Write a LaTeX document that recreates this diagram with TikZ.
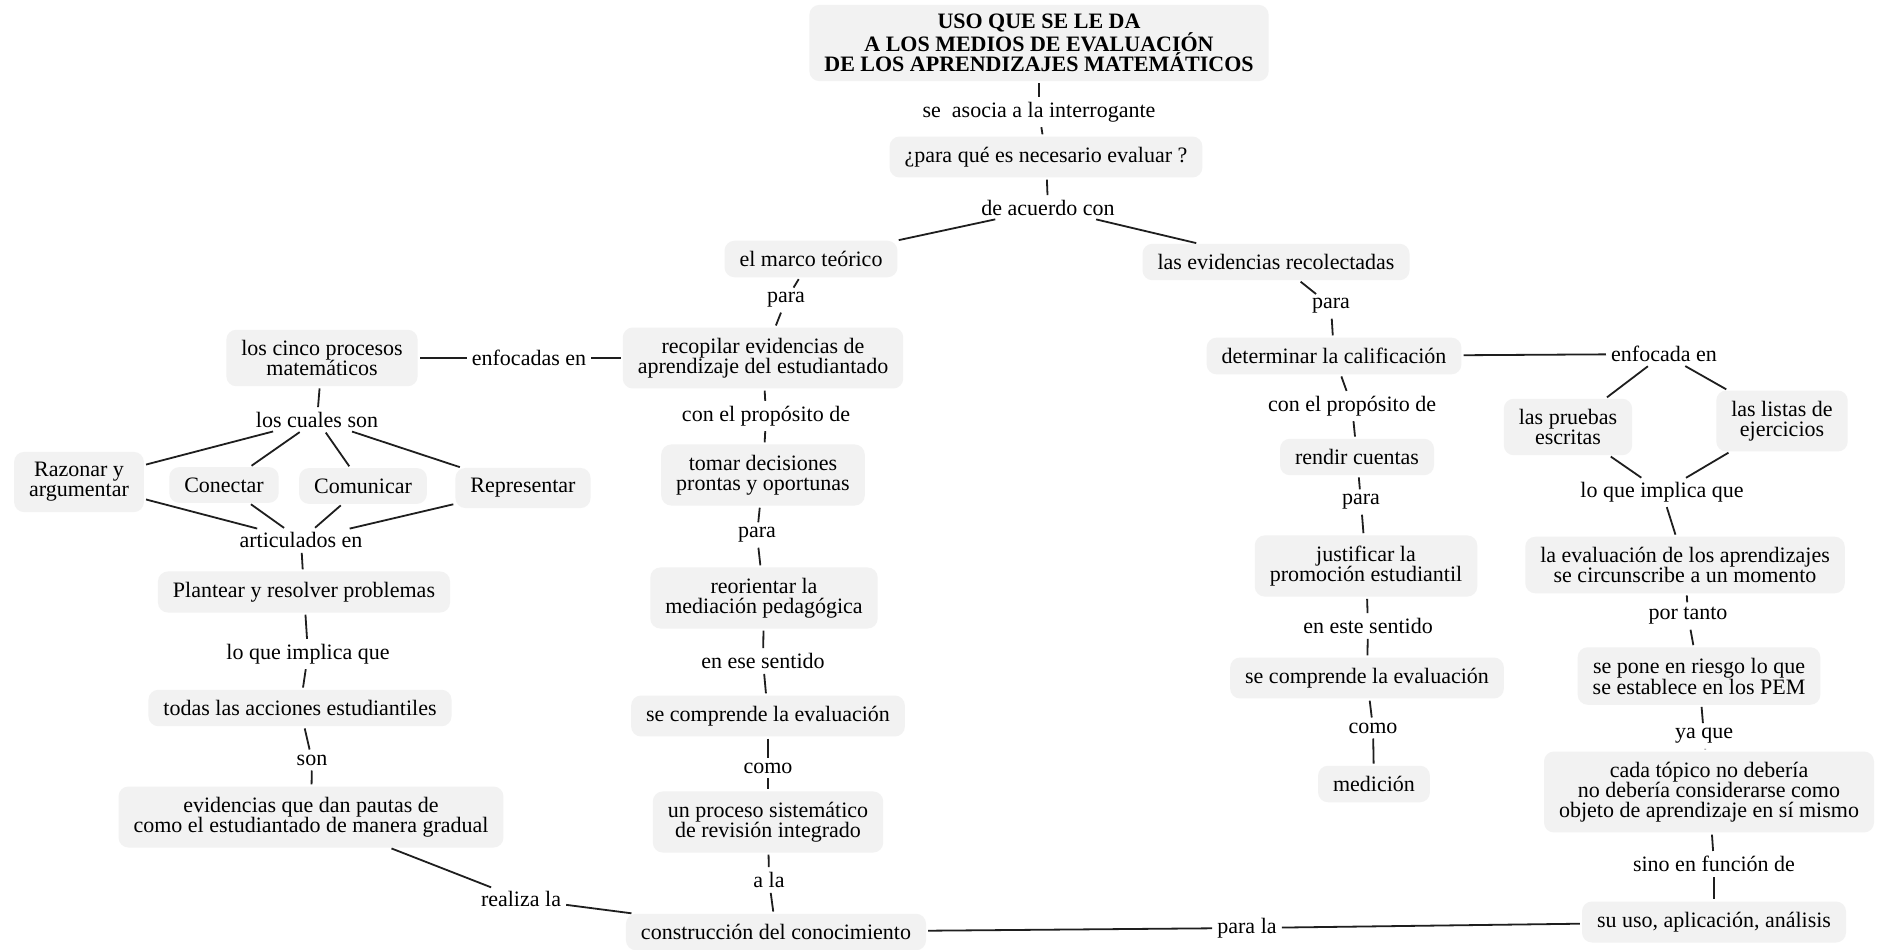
\documentclass[tikz,border=0pt]{standalone}
\usepackage{fontspec}
\setmainfont{Liberation Serif}
\newcommand\mapfont{\fontsize{22}{20}\selectfont}
\definecolor{boxfill}{HTML}{F2F2F2}
\definecolor{linecol}{HTML}{1E1E1E}
\begin{document}
\begin{tikzpicture}[x=1pt,y=-1pt,
  concept/.style={fill=boxfill, rounded corners=10pt, inner xsep=15pt, inner ysep=10.5pt, align=center, font=\mapfont},
  linkword/.style={inner sep=3pt, font=\mapfont, align=center},
  conn/.style={draw=linecol, line width=1.8pt, shorten <=2pt, shorten >=2pt}]
\useasboundingbox[fill=white] (0,0) rectangle (1882,950);

% top of the map
\node[concept, inner ysep=9pt, font=\mapfont\bfseries] (title) at (1039,43) {USO QUE SE LE DA\\A LOS MEDIOS DE EVALUACIÓN\\DE LOS APRENDIZAJES MATEMÁTICOS};
\node[linkword] (asocia) at (1039,112) {se~~asocia a la interrogante};
\node[concept] (pregunta) at (1046,157) {¿para qué es necesario evaluar ?};
\node[linkword] (acuerdo) at (1048,208) {de acuerdo con};
\node[concept] (marco) at (811,259) {el marco teórico};
\node[concept] (evid) at (1276,262) {las evidencias recolectadas};
\node[linkword] (paraA) at (786,300) {para};
\node[linkword] (paraB) at (1331,306) {para};

% left branch
\node[concept] (recop) at (763,358) {recopilar evidencias de\\aprendizaje del estudiantado};
\node[linkword] (enfocadas) at (529,358) {enfocadas en};
\node[concept] (cinco) at (322,358) {los cinco procesos\\matemáticos};
\node[linkword] (cuales) at (317,420) {los cuales son};
\node[concept] (razonar) at (79,482) {Razonar y\\argumentar};
\node[concept] (conectar) at (224,485) {Conectar};
\node[concept] (comunicar) at (363,486) {Comunicar};
\node[concept] (represent) at (523,488) {Representar};
\node[linkword] (articulados) at (301,540) {articulados en};
\node[concept] (plantear) at (304,592) {Plantear y resolver problemas};
\node[linkword] (implicaA) at (308,654) {lo que implica que};
\node[concept] (todas) at (300,708) {todas las acciones estudiantiles};
\node[linkword] (son) at (312,760) {son};
\node[concept] (pautas) at (311,817) {evidencias que dan pautas de\\como el estudiantado de manera gradual};
\node[linkword] (realiza) at (521,899) {realiza la};
\node[concept] (constr) at (776,932) {construcción del conocimiento};

% middle column
\node[linkword] (propA) at (766,416) {con el propósito de};
\node[concept] (tomar) at (763,475) {tomar decisiones\\prontas y oportunas};
\node[linkword] (paraC) at (757,535) {para};
\node[concept] (reorientar) at (764,598) {reorientar la\\mediación pedagógica};
\node[linkword] (ese) at (763,661) {en ese sentido};
\node[concept] (comprA) at (768,716) {se comprende la evaluación};
\node[linkword] (comoA) at (768,768) {como};
\node[concept] (proceso) at (768,822) {un proceso sistemático\\de revisión integrado};
\node[linkword] (ala) at (769,880) {a la};

% right-middle column
\node[concept] (determinar) at (1334,356) {determinar la calificación};
\node[linkword] (enfocada) at (1664,354) {enfocada en};
\node[linkword] (propB) at (1352,406) {con el propósito de};
\node[concept] (rendir) at (1357,457) {rendir cuentas};
\node[linkword] (paraD) at (1361,502) {para};
\node[concept] (justificar) at (1366,566) {justificar la\\promoción estudiantil};
\node[linkword] (este) at (1368,626) {en este sentido};
\node[concept] (comprB) at (1367,678) {se comprende la evaluación};
\node[linkword] (comoB) at (1373,728) {como};
\node[concept] (medicion) at (1374,784) {medición};

% right column
\node[concept] (pruebas) at (1568,427) {las pruebas\\escritas};
\node[concept] (listas) at (1782,421) {las listas de\\ejercicios};
\node[linkword] (implicaB) at (1662,492) {lo que implica que};
\node[concept] (circ) at (1685,565) {la evaluación de los aprendizajes\\se circunscribe a un momento};
\node[linkword] (portanto) at (1688,616) {por tanto};
\node[concept] (riesgo) at (1699,676) {se pone en riesgo lo que\\se establece en los PEM};
\node[linkword] (yaque) at (1704,736) {ya que};
\node[concept] (topico) at (1709,792) {cada tópico no debería\\no debería considerarse como\\objeto de aprendizaje en sí mismo};
\node[linkword] (sino) at (1714,864) {sino en función de};
\node[concept] (uso) at (1714,922) {su uso, aplicación, análisis};
\node[linkword] (parala) at (1247,928) {para la};

% connectors
\draw[conn] (title) -- (asocia);
\draw[conn] (asocia) -- (pregunta);
\draw[conn] (pregunta) -- (acuerdo);
\draw[conn] (acuerdo) -- (marco);
\draw[conn] (acuerdo) -- (evid);
\draw[conn] (marco) -- (paraA);
\draw[conn] (paraA) -- (recop);
\draw[conn] (evid) -- (paraB);
\draw[conn] (paraB) -- (determinar);

\draw[conn] (recop) -- (enfocadas);
\draw[conn] (enfocadas) -- (cinco);
\draw[conn] (cinco) -- (cuales);
\foreach \n in {razonar,conectar,comunicar,represent}{
  \draw[conn] (cuales) -- (\n);
  \draw[conn] (\n) -- (articulados);
}
\draw[conn] (articulados) -- (plantear);
\draw[conn] (plantear) -- (implicaA);
\draw[conn] (implicaA) -- (todas);
\draw[conn] (todas) -- (son);
\draw[conn] (son) -- (pautas);
\draw[conn] (pautas) -- (realiza);
\draw[conn] (realiza) -- (constr);

\draw[conn] (recop) -- (propA);
\draw[conn] (propA) -- (tomar);
\draw[conn] (tomar) -- (paraC);
\draw[conn] (paraC) -- (reorientar);
\draw[conn] (reorientar) -- (ese);
\draw[conn] (ese) -- (comprA);
\draw[conn] (comprA) -- (comoA);
\draw[conn] (comoA) -- (proceso);
\draw[conn] (proceso) -- (ala);
\draw[conn] (ala) -- (constr);

\draw[conn] (determinar) -- (enfocada);
\draw[conn] (determinar) -- (propB);
\draw[conn] (propB) -- (rendir);
\draw[conn] (rendir) -- (paraD);
\draw[conn] (paraD) -- (justificar);
\draw[conn] (justificar) -- (este);
\draw[conn] (este) -- (comprB);
\draw[conn] (comprB) -- (comoB);
\draw[conn] (comoB) -- (medicion);

\draw[conn] (enfocada) -- (pruebas);
\draw[conn] (enfocada) -- (listas);
\draw[conn] (pruebas) -- (implicaB);
\draw[conn] (listas) -- (implicaB);
\draw[conn] (implicaB) -- (circ);
\draw[conn] (circ) -- (portanto);
\draw[conn] (portanto) -- (riesgo);
\draw[conn] (riesgo) -- (yaque);
\draw[conn] (yaque) -- (topico);
\draw[conn] (topico) -- (sino);
\draw[conn] (sino) -- (uso);
\draw[conn] (uso) -- (parala);
\draw[conn] (parala) -- (constr);
\end{tikzpicture}
\end{document}
